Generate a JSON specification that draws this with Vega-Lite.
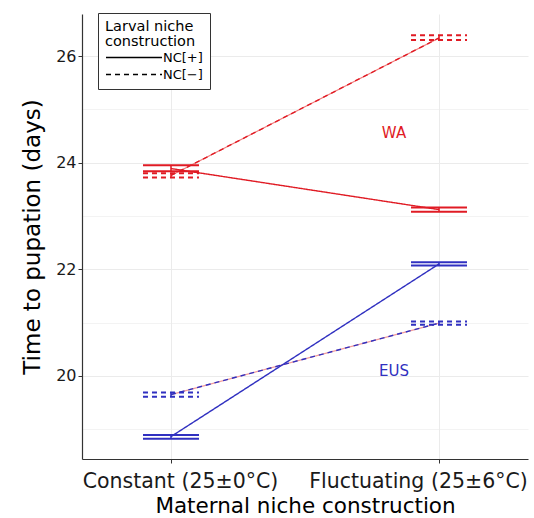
{
  "$schema": "https://vega.github.io/schema/vega-lite/v6.json",
  "autosize": "none",
  "width": 446,
  "height": 445,
  "padding": {"left": 82, "top": 14, "right": 6, "bottom": 59},
  "background": "white",
  "config": {
    "view": {"stroke": null},
    "font": "DejaVu Sans",
    "axis": {
      "domainColor": "#333333",
      "domainWidth": 1.2,
      "tickColor": "#333333",
      "tickSize": 4,
      "gridColor": "#ebebeb",
      "labelColor": "#1a1a1a",
      "titleColor": "#000000",
      "titleFontWeight": "normal",
      "labelFont": "DejaVu Sans",
      "titleFont": "DejaVu Sans"
    }
  },
  "datasets": {
    "stats": [
      {"site": "WA", "nc": "NC[+]", "cond": "Constant (25±0°C)", "mean": 23.89, "lo": 23.84, "hi": 23.95},
      {"site": "WA", "nc": "NC[+]", "cond": "Fluctuating (25±6°C)", "mean": 23.12, "lo": 23.08, "hi": 23.16},
      {"site": "WA", "nc": "NC[−]", "cond": "Constant (25±0°C)", "mean": 23.76, "lo": 23.72, "hi": 23.8},
      {"site": "WA", "nc": "NC[−]", "cond": "Fluctuating (25±6°C)", "mean": 26.34, "lo": 26.3, "hi": 26.39},
      {"site": "EUS", "nc": "NC[+]", "cond": "Constant (25±0°C)", "mean": 18.86, "lo": 18.82, "hi": 18.89},
      {"site": "EUS", "nc": "NC[+]", "cond": "Fluctuating (25±6°C)", "mean": 22.1, "lo": 22.07, "hi": 22.13},
      {"site": "EUS", "nc": "NC[−]", "cond": "Constant (25±0°C)", "mean": 19.65, "lo": 19.61, "hi": 19.69},
      {"site": "EUS", "nc": "NC[−]", "cond": "Fluctuating (25±6°C)", "mean": 20.99, "lo": 20.96, "hi": 21.02}
    ],
    "labels": [
      {"site": "WA", "cond": "Fluctuating (25±6°C)", "y": 24.56},
      {"site": "EUS", "cond": "Fluctuating (25±6°C)", "y": 20.09}
    ]
  },
  "data": {"name": "stats"},
  "encoding": {
    "x": {
      "field": "cond",
      "type": "ordinal",
      "sort": ["Constant (25±0°C)", "Fluctuating (25±6°C)"],
      "scale": {"type": "point", "padding": 0.332},
      "axis": {
        "title": "Maternal niche construction",
        "titleFontSize": 21.5,
        "titlePadding": 4,
        "labelFontSize": 20.5,
        "labelPadding": 8,
        "labelLimit": 0,
        "labelAngle": 0,
        "labelOffset": {"condition": {"test": "datum.value == 'Constant (25±0°C)'", "value": 9}, "value": -21},
        "grid": true,
        "gridWidth": 1
      }
    },
    "y": {
      "type": "quantitative",
      "scale": {"domain": [18.44, 26.79], "nice": false, "zero": false},
      "axis": {
        "title": "Time to pupation (days)",
        "titleFontSize": 23,
        "titlePadding": 11,
        "labelFontSize": 16,
        "labelPadding": 2,
        "values": [19, 20, 21, 22, 23, 24, 25, 26],
        "labelExpr": "datum.value % 2 == 0 ? datum.label : ''",
        "tickSize": {"condition": {"test": "datum.value % 2 == 1", "value": 0}, "value": 4},
        "gridWidth": {"condition": {"test": "datum.value % 2 == 1", "value": 0.6}, "value": 1.1},
        "grid": true
      }
    }
  },
  "layer": [
    {
      "transform": [{"filter": "datum.nc == 'NC[−]'"}],
      "mark": {"type": "line", "strokeWidth": 1.3},
      "encoding": {
        "y": {"field": "mean"},
        "detail": {"field": "site"},
        "stroke": {"condition": {"test": "datum.site == 'WA'", "value": "#f07878"}, "value": "#f29a9a"}
      }
    },
    {
      "mark": {"type": "line", "strokeWidth": 1.4},
      "encoding": {
        "y": {"field": "mean"},
        "color": {
          "field": "site",
          "type": "nominal",
          "scale": {"domain": ["WA", "EUS"], "range": ["#e01b24", "#3030c0"]},
          "legend": null
        },
        "strokeDash": {
          "field": "nc",
          "type": "nominal",
          "scale": {"domain": ["NC[+]", "NC[−]"], "range": [[1, 0], [5, 4]]},
          "legend": {
            "title": ["Larval niche", "construction"],
            "orient": "none",
            "legendX": 16,
            "legendY": -1,
            "strokeColor": "#333333",
            "fillColor": "white",
            "padding": 7,
            "titleFontSize": 14.5,
            "titleFontWeight": "normal",
            "titleColor": "#000000",
            "titleLineHeight": 15,
            "titlePadding": 0,
            "labelFontSize": 13,
            "labelColor": "#000000",
            "labelOffset": 21,
            "symbolType": "M-4,0H4",
            "symbolSize": 196,
            "symbolOffset": 21,
            "symbolStrokeColor": "#000000",
            "symbolStrokeWidth": 1.5,
            "rowPadding": 2
          }
        }
      }
    },
    {
      "mark": {"type": "rule", "strokeWidth": 2, "xOffset": -28, "x2Offset": 28},
      "encoding": {
        "x2": {"field": "cond"},
        "y": {"field": "hi"},
        "color": {"field": "site", "type": "nominal"},
        "strokeDash": {"field": "nc", "type": "nominal"}
      }
    },
    {
      "mark": {"type": "rule", "strokeWidth": 2, "xOffset": -28, "x2Offset": 28},
      "encoding": {
        "x2": {"field": "cond"},
        "y": {"field": "lo"},
        "color": {"field": "site", "type": "nominal"},
        "strokeDash": {"field": "nc", "type": "nominal"}
      }
    },
    {
      "mark": {"type": "rule", "strokeWidth": 1.5},
      "encoding": {
        "y": {"field": "lo"},
        "y2": {"field": "hi"},
        "color": {"field": "site", "type": "nominal"}
      }
    },
    {
      "data": {"name": "labels"},
      "mark": {"type": "text", "dx": -45, "fontSize": 15, "font": "DejaVu Sans"},
      "encoding": {
        "y": {"field": "y"},
        "text": {"field": "site"},
        "color": {"field": "site", "type": "nominal"}
      }
    }
  ]
}
